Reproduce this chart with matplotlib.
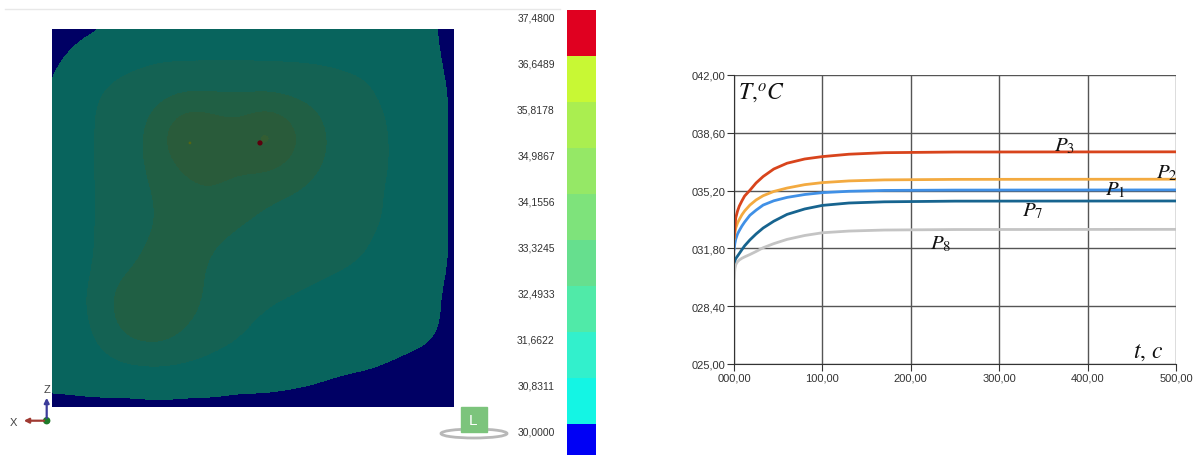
import numpy as np
import matplotlib.pyplot as plt
import matplotlib.transforms as mtransforms
from matplotlib.colors import ListedColormap, BoundaryNorm, to_rgb
from matplotlib.patches import Ellipse, Rectangle, Circle

plt.rcParams['font.family'] = ['Liberation Sans', 'DejaVu Sans']
plt.rcParams['mathtext.fontset'] = 'stix'

W, H = 1196, 456

# ---- левая часть: поле температур (значения в узлах сетки)
field = np.array([
    [29.4, 29.8, 29.95, 30.3, 30.4, 30.4, 30.4, 30.4, 30.4, 30.4, 30.4, 30.4, 30.4, 30.3, 30.2, 29.7],
    [29.8, 30.3, 30.5, 30.6, 30.7, 30.7, 30.7, 30.7, 30.7, 30.7, 30.7, 30.6, 30.6, 30.5, 30.3, 29.7],
    [29.95, 30.5, 30.8, 31.0, 31.2, 31.3, 31.3, 31.3, 31.3, 31.2, 31.1, 31.0, 30.8, 30.6, 30.4, 29.8],
    [29.95, 30.6, 31.0, 31.3, 31.8, 32.5, 32.4, 32.2, 32.5, 32.1, 31.6, 31.2, 30.9, 30.7, 30.5, 29.8],
    [29.95, 30.6, 31.0, 31.4, 32.1, 33.8, 33.2, 32.9, 34.2, 32.7, 31.8, 31.3, 31.0, 30.7, 30.5, 29.8],
    [29.95, 30.6, 31.0, 31.4, 32.0, 32.8, 32.8, 32.7, 32.8, 32.3, 31.7, 31.3, 31.0, 30.7, 30.5, 29.8],
    [29.95, 30.6, 31.0, 31.3, 31.8, 32.3, 32.5, 32.2, 31.9, 31.7, 31.4, 31.2, 30.9, 30.7, 30.5, 29.8],
    [29.95, 30.6, 31.0, 31.3, 31.7, 32.2, 32.1, 31.8, 31.5, 31.3, 31.2, 31.1, 30.9, 30.7, 30.5, 29.8],
    [29.95, 30.6, 31.0, 31.4, 31.9, 32.1, 31.7, 31.4, 31.2, 31.1, 31.1, 31.0, 30.8, 30.6, 30.5, 29.8],
    [29.95, 30.6, 31.1, 31.7, 32.2, 32.0, 31.5, 31.2, 31.1, 31.0, 30.9, 30.8, 30.7, 30.6, 30.4, 29.8],
    [29.95, 30.7, 31.3, 32.7, 32.6, 32.1, 31.4, 31.1, 30.9, 30.8, 30.7, 30.6, 30.5, 30.5, 30.3, 29.7],
    [29.95, 30.6, 31.2, 32.3, 32.5, 31.7, 31.2, 30.9, 30.7, 30.6, 30.5, 30.5, 30.4, 30.3, 30.3, 29.7],
    [29.95, 30.5, 30.8, 31.1, 31.2, 31.0, 30.8, 30.7, 30.6, 30.5, 30.4, 30.4, 30.3, 30.1, 29.9, 29.6],
    [30.4, 30.4, 30.5, 30.5, 30.5, 30.5, 30.5, 30.4, 30.4, 30.3, 30.1, 29.9, 29.8, 29.6, 29.5, 29.4],
    [29.6, 29.7, 29.7, 29.7, 29.8, 29.7, 29.7, 29.6, 29.6, 29.5, 29.5, 29.4, 29.3, 29.3, 29.3, 29.3],
])
hot_x = [5.16, 7.78]
hot_y = [4.22, 4.22]
hot_t = [36.0, 37.4]

cb_levels = [29.0, 30.0, 30.8311, 31.6622, 32.4933, 33.3245, 34.1556, 34.9867, 35.8178, 36.6489, 37.48]
cb_labels = ["30,0000", "30,8311", "31,6622", "32,4933", "33,3245",
             "34,1556", "34,9867", "35,8178", "36,6489", "37,4800"]
cb_colors = ["#0000f5", "#14f5e4", "#32f0cc", "#50eaa8", "#66df8e",
             "#7ee37b", "#95e866", "#aaee50", "#c8f834", "#e00020"]

# ---- правая часть: переходные кривые
t = [0, 1, 2, 4, 6, 9, 12, 18, 25, 33, 45, 60, 80, 100, 130, 170, 250, 500]
P3 = [32.4, 33.1, 33.6, 34.0, 34.29, 34.6, 34.88, 35.22, 35.65, 36.03, 36.47, 36.81, 37.06, 37.2, 37.34, 37.43, 37.47, 37.48]
P2 = [32.3, 32.7, 33.0, 33.3, 33.5, 33.78, 34.0, 34.35, 34.65, 34.9, 35.15, 35.35, 35.55, 35.67, 35.77, 35.83, 35.86, 35.87]
P1 = [31.7, 32.1, 32.35, 32.65, 32.85, 33.12, 33.35, 33.75, 34.05, 34.35, 34.6, 34.8, 34.97, 35.08, 35.16, 35.21, 35.23, 35.24]
P7 = [30.95, 31.08, 31.2, 31.35, 31.5, 31.73, 31.95, 32.3, 32.65, 33.0, 33.4, 33.8, 34.12, 34.33, 34.47, 34.54, 34.58, 34.59]
P8 = [30.0, 30.6, 30.85, 31.02, 31.12, 31.22, 31.3, 31.44, 31.62, 31.84, 32.08, 32.33, 32.56, 32.72, 32.82, 32.88, 32.91, 32.92]
yticks = [25.0, 28.4, 31.8, 35.2, 38.6, 42.0]
xticks = [0, 100, 200, 300, 400, 500]

fig = plt.figure(figsize=(W / 100, H / 100), dpi=100)

# фон/декор в пикселях
deco = fig.add_axes([0, 0, 1, 1])
deco.set_xlim(0, W)
deco.set_ylim(H, 0)
deco.axis('off')
deco.plot([5, 560], [10, 10], color='#e8e8e8', lw=1)

# поле
ax_f = fig.add_axes([52 / W, 1 - 408 / H, 401 / W, 378 / H])
dim = 0.41
field_cols = [tuple(c * dim for c in to_rgb(cc)) for cc in cb_colors]
fcmap = ListedColormap(field_cols)
fcmap.set_under(field_cols[0])
fcmap.set_over(field_cols[-1])
fnorm = BoundaryNorm(cb_levels, fcmap.N)
ax_f.imshow(field, cmap=fcmap, norm=fnorm, interpolation='bicubic',
            interpolation_stage='data', extent=(-0.5, 15.5, 14.5, -0.5), aspect='auto')
ax_f.scatter(hot_x, hot_y, c=hot_t, cmap=fcmap, norm=fnorm, s=[4, 14], lw=0)
ax_f.set_xlim(0, 15)
ax_f.set_ylim(14, 0)
ax_f.axis('off')

# шкала
ax_cb = fig.add_axes([567 / W, 0, 29 / W, 445 / H])
for i, col in enumerate(cb_colors):
    ax_cb.bar(0, 1, bottom=i, width=1, color=col, lw=0)
ax_cb.set_xlim(-0.5, 0.5)
ax_cb.set_ylim(10 - 445 / 46, 10)
ax_cb.axis('off')
trans = mtransforms.blended_transform_factory(ax_cb.transAxes, ax_cb.transData)
for k, lab in enumerate(cb_labels):
    ax_cb.text(-0.42, k + 1 - 0.16, lab, transform=trans, ha='right', va='center',
               fontsize=7.5, color='#333333', clip_on=False)

# оси координат
ox, oy = 46.7, 421.7
deco.annotate('', xy=(21, oy), xytext=(ox, oy),
              arrowprops=dict(arrowstyle='-|>', color='#a03a32', lw=1.6, mutation_scale=7))
deco.annotate('', xy=(ox, 396), xytext=(ox, oy),
              arrowprops=dict(arrowstyle='-|>', color='#3c3c9a', lw=1.6, mutation_scale=7))
deco.add_patch(Circle((ox, oy), 3, color='#1f7a2a'))
deco.text(13, oy + 1, 'X', fontsize=8, color='#444444', ha='center', va='center')
deco.text(46.5, 390, 'Z', fontsize=8, color='#444444', ha='center', va='center')

# значок L
deco.add_patch(Ellipse((474, 434.5), 66, 9, fill=False, ec='#b8b8b8', lw=2))
deco.add_patch(Rectangle((460.5, 408.5), 26, 25, color='#7cc47c'))
deco.text(473.5, 421, 'L', fontsize=11, color='white', ha='center', va='center')

# график
ax = fig.add_axes([734 / W, 1 - 365 / H, 442 / W, 289 / H])
line_kw = dict(lw=2, solid_joinstyle='round', solid_capstyle='round')
ax.plot(t, P8, color='#c4c4c4', **line_kw)
ax.plot(t, P7, color='#17648f', **line_kw)
ax.plot(t, P1, color='#4090e6', **line_kw)
ax.plot(t, P2, color='#f3aa40', **line_kw)
ax.plot(t, P3, color='#d8441c', **line_kw)
ax.set_xlim(0, 500)
ax.set_ylim(25, 42)
ax.set_xticks(xticks)
ax.set_yticks(yticks)
ax.set_yticklabels([('%06.2f' % v).replace('.', ',') for v in yticks])
ax.set_xticklabels([('%06.2f' % v).replace('.', ',') for v in xticks])
ax.tick_params(labelsize=8, labelcolor='#333333', length=5, color='#333333', pad=1)
ax.grid(True, color='#555555', lw=1)
for s in ['top', 'right']:
    ax.spines[s].set_visible(False)
for s in ['left', 'bottom']:
    ax.spines[s].set_color('#333333')

lab_kw = dict(fontsize=15, ha='center', va='center', color='#111111')
ax.text(374, 37.88, r'$P_{\mathit{3}}$', **lab_kw)
ax.text(490, 36.3, r'$P_{\mathit{2}}$', **lab_kw)
ax.text(431, 35.29, r'$P_{\mathit{1}}$', **lab_kw)
ax.text(338, 34.06, r'$P_{\mathit{7}}$', **lab_kw)
ax.text(234, 32.12, r'$P_{\mathit{8}}$', **lab_kw)
ax.text(4, 41.0, r'$T{,}^{o}C$', fontsize=17, ha='left', va='center', color='#111111')
ax.text(468, 25.78, r'$t{,}\ c$', fontsize=17, ha='center', va='center', color='#111111')

fig.savefig('out.png', dpi=100)
